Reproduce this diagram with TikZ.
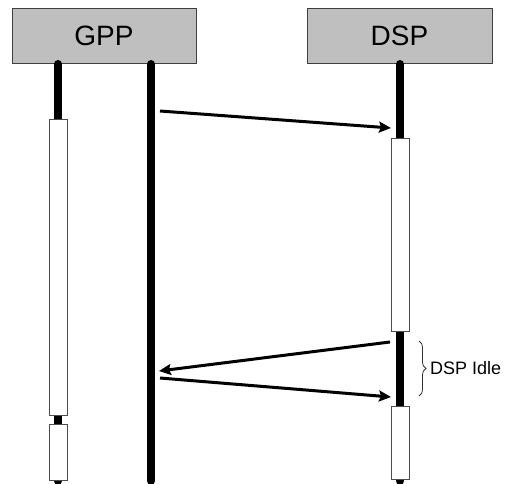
\documentclass[tikz,border=0pt]{standalone}
\usepackage{fontspec}
\setmainfont{Liberation Sans}
\usetikzlibrary{arrows.meta,decorations.pathreplacing}
\begin{document}
\begin{tikzpicture}[x=1pt,y=-1pt,
  header/.style={draw=black!75, fill=black!25, line width=1pt, minimum height=55pt, inner sep=0pt, font=\fontsize{28}{30}\selectfont},
  lifeline/.style={line width=8pt, line cap=round},
  act/.style={draw=black!70, fill=white, line width=1pt, minimum width=18pt, inner sep=0pt},
  msg/.style={line width=3pt, -{Stealth[length=12pt,width=11pt,inset=2pt]}},
  idlebrace/.style={decorate, decoration={brace, amplitude=7pt}, draw=black!80, line width=0.8pt}
]
\useasboundingbox (0,0) rectangle (507,483);
% headers
\node[header, minimum width=184pt] (gpp) at (104,35.5) {GPP};
\node[header, minimum width=185pt] (dsp) at (399.5,35.5) {DSP};
% lifeline ends
\coordinate (l1t) at (58,64);   \coordinate (l1b) at (58,481);
\coordinate (l2t) at (151,64);  \coordinate (l2b) at (151,481);
\coordinate (l3t) at (400,64);  \coordinate (l3b) at (400,481);
\draw[lifeline] (l1t) -- (l1b);
\draw[lifeline] (l2t) -- (l2b);
\draw[lifeline] (l3t) -- (l3b);
% activation boxes
\node[act, minimum height=296pt] (a1) at (58,267) {};
\node[act, minimum height=56pt] (a2) at (58,452) {};
\node[act, minimum height=193pt] (d1) at (400,234.5) {};
\node[act, minimum height=73pt] (d2) at (400,442.5) {};
% messages
\coordinate (m1s) at (160,111); \coordinate (m1e) at (391,128);
\coordinate (m2s) at (390,342); \coordinate (m2e) at (159,371);
\coordinate (m3s) at (160,378); \coordinate (m3e) at (391,397);
\draw[msg] (m1s) -- (m1e);
\draw[msg] (m2s) -- (m2e);
\draw[msg] (m3s) -- (m3e);
% idle brace
\coordinate (b1) at (419,341); \coordinate (b2) at (419,396);
\draw[idlebrace] (b1) -- (b2);
\node[anchor=west, inner sep=0pt, font=\fontsize{18}{20}\selectfont] (idle) at (430,368.5) {DSP Idle};
\end{tikzpicture}
\end{document}
